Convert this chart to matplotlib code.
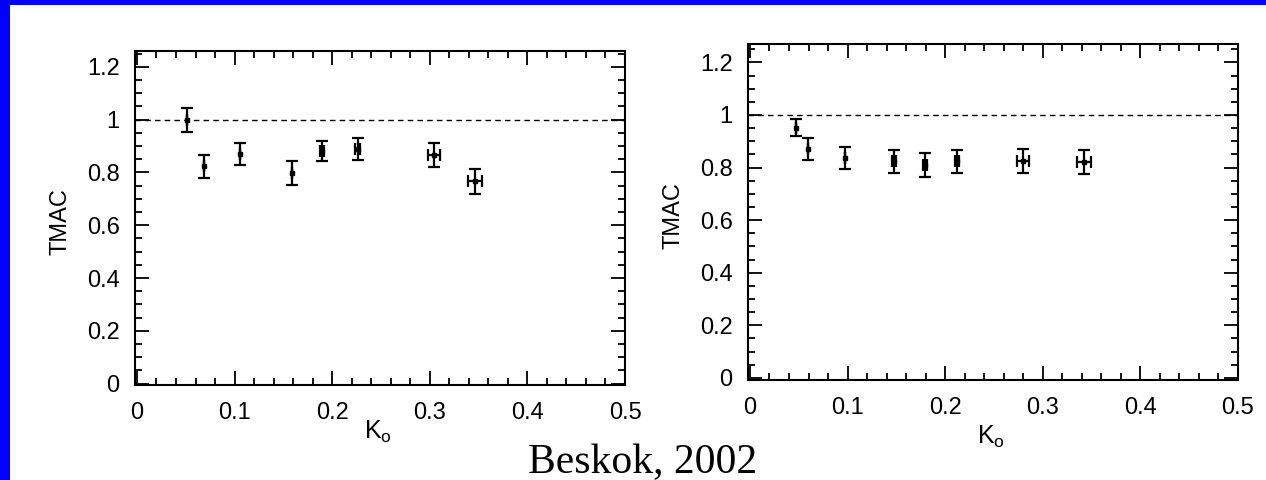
import matplotlib.pyplot as plt
from matplotlib.ticker import MultipleLocator

# left panel
kn_left = [0.051, 0.069, 0.106, 0.159, 0.190, 0.226, 0.304, 0.346]
tmac_left = [1.00, 0.824, 0.870, 0.799, 0.882, 0.888, 0.866, 0.767]
yerr_left = [0.045, 0.044, 0.040, 0.046, 0.038, 0.042, 0.044, 0.047]
xerr_left = [0.0, 0.0, 0.0, 0.0, 0.002, 0.003, 0.006, 0.007]

# right panel
kn_right = [0.047, 0.059, 0.097, 0.148, 0.179, 0.212, 0.280, 0.342]
tmac_right = [0.952, 0.872, 0.837, 0.824, 0.809, 0.824, 0.824, 0.821]
yerr_right = [0.032, 0.042, 0.041, 0.043, 0.045, 0.044, 0.046, 0.045]
xerr_right = [0.0, 0.0, 0.0, 0.002, 0.002, 0.002, 0.006, 0.007]

W, H = 1266, 480
fig = plt.figure(figsize=(W / 100, H / 100), dpi=100)
fig.patch.set_facecolor("white")

# blue frame strips (top and left)
fig.add_artist(plt.Rectangle((0, 1 - 5 / H), 1, 5 / H, transform=fig.transFigure,
                             color="#0000ff", lw=0))
fig.add_artist(plt.Rectangle((0, 0), 10 / W, 1, transform=fig.transFigure,
                             color="#0000ff", lw=0))

plt.rcParams["font.family"] = ["Liberation Sans", "DejaVu Sans"]


def panel(rect, x, y, xe, ye, ylim, xlab_y):
    ax = fig.add_axes(rect)
    ax.errorbar(x, y, yerr=ye, xerr=xe, fmt="s", ms=3.5, color="black",
                ecolor="black", elinewidth=1.6, capsize=4, capthick=1.6)
    ax.axhline(1.0, color="black", ls=(0, (4, 3)), lw=1.0)
    ax.set_xlim(-0.002, 0.5)
    ax.set_ylim(*ylim)
    ax.xaxis.set_minor_locator(MultipleLocator(0.02))
    ax.yaxis.set_minor_locator(MultipleLocator(0.05))
    ax.set_xticks([0, 0.1, 0.2, 0.3, 0.4, 0.5])
    ax.set_xticklabels(["0", "0.1", "0.2", "0.3", "0.4", "0.5"])
    ax.set_yticks([0, 0.2, 0.4, 0.6, 0.8, 1.0, 1.2])
    ax.set_yticklabels(["0", "0.2", "0.4", "0.6", "0.8", "1", "1.2"])
    ax.tick_params(which="both", direction="in", top=True, right=True,
                   labelsize=17, width=1.3)
    ax.tick_params(which="major", length=10)
    ax.tick_params(axis="y", which="major", pad=11)
    ax.tick_params(axis="x", which="major", pad=12)
    ax.tick_params(which="minor", length=5)
    for s in ax.spines.values():
        s.set_linewidth(1.5)
    ax.set_ylabel("TMAC", fontsize=17)
    ax.yaxis.set_label_coords(-0.129, 0.488)
    ax.set_xlabel(r"K$_{\mathregular{o}}$", fontsize=18)
    ax.xaxis.set_label_coords(0.496, xlab_y)
    return ax


panel([135 / W, (H - 385) / H, 490 / W, 334 / H],
      kn_left, tmac_left, xerr_left, yerr_left, (-0.005, 1.26), -0.10)
panel([748 / W, (H - 380) / H, 490 / W, 336 / H],
      kn_right, tmac_right, xerr_right, yerr_right, (-0.008, 1.27), -0.13)

fig.text(643 / W, 1 - 473 / H, "Beskok, 2002", ha="center", va="baseline",
         fontsize=30, family=["Liberation Serif", "DejaVu Serif"])

fig.savefig("out.png", dpi=100)
